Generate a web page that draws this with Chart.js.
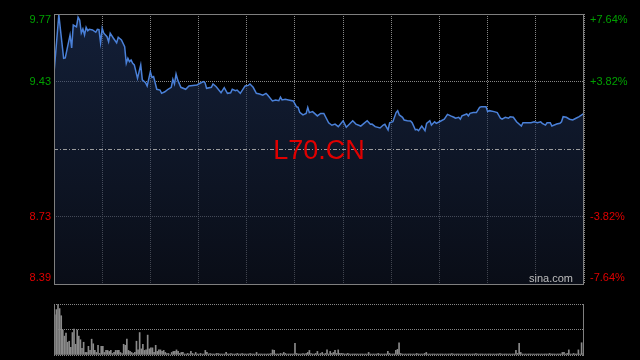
<!DOCTYPE html>
<html>
<head>
<meta charset="utf-8">
<script src="https://cdn.jsdelivr.net/npm/chart.js@4.4.1/dist/chart.umd.min.js"></script>
<style>
    html, body { margin: 0; padding: 0; background: #000; }
    #wrap { position: relative; width: 640px; height: 360px; background: #000; }
    #priceChart { position: absolute; left: 0; top: 0; }
    #volChart { position: absolute; left: 0; top: 296px; }
</style>
</head>
<body>
<div id="wrap">
    <canvas id="priceChart" width="640" height="296"></canvas>
    <canvas id="volChart" width="640" height="64"></canvas>
</div>
<script>
// Intraday data (minute index from the open)
const symbol = 'L70.CN';
const preClose = 9.08;
const pctTicks = [7.64, 3.82, 0, -3.82, -7.64];

const minutes = [
    0, 3, 6, 7, 10, 11, 12, 14, 15, 16,
    17, 18, 19, 20, 21, 22, 24, 26, 27, 28,
    29, 30, 31, 33, 34, 35, 37, 39, 40, 42,
    44, 45, 46, 47, 48, 49, 50, 52, 54, 55,
    57, 58, 60, 61, 62, 64, 66, 67, 69, 71,
    73, 74, 75, 76, 77, 79, 82, 84, 89, 91,
    93, 94, 95, 98, 99, 101, 104, 106, 108, 110,
    111, 113, 114, 116, 119, 121, 122, 124, 126, 128,
    130, 132, 133, 136, 138, 140, 141, 142, 144, 146,
    149, 151, 152, 153, 155, 157, 158, 159, 161, 164,
    166, 168, 171, 173, 175, 177, 180, 182, 184, 186,
    188, 191, 193, 195, 197, 198, 200, 203, 205, 206,
    208, 209, 211, 213, 214, 215, 217, 218, 220, 222,
    223, 225, 226, 227, 229, 230, 231, 232, 234, 235,
    237, 238, 240, 243, 245, 247, 249, 250, 252, 253,
    254, 257, 258, 259, 261, 263, 265, 266, 269, 270,
    271, 274, 276, 278, 279, 281, 283, 284, 286, 288,
    291, 292, 294, 297, 299, 301, 303, 304, 306, 307,
    309, 310, 313, 315, 316, 317, 319, 321, 323, 325,
    327, 330
];

const prices = [
    9.469, 9.770, 9.546, 9.548, 9.666, 9.599, 9.717, 9.708, 9.757, 9.743,
    9.676, 9.697, 9.666, 9.705, 9.688, 9.695, 9.692, 9.680, 9.695, 9.693,
    9.626, 9.700, 9.675, 9.657, 9.631, 9.675, 9.649, 9.626, 9.654, 9.640,
    9.606, 9.520, 9.546, 9.529, 9.537, 9.520, 9.512, 9.443, 9.512, 9.435,
    9.421, 9.404, 9.477, 9.448, 9.452, 9.387, 9.383, 9.366, 9.374, 9.387,
    9.397, 9.438, 9.414, 9.465, 9.435, 9.397, 9.387, 9.404, 9.409, 9.418,
    9.426, 9.421, 9.392, 9.397, 9.414, 9.400, 9.369, 9.395, 9.366, 9.369,
    9.387, 9.380, 9.383, 9.366, 9.404, 9.407, 9.414, 9.397, 9.366, 9.363,
    9.357, 9.366, 9.357, 9.327, 9.332, 9.328, 9.346, 9.332, 9.335, 9.332,
    9.327, 9.297, 9.294, 9.269, 9.255, 9.263, 9.294, 9.267, 9.272, 9.250,
    9.263, 9.263, 9.215, 9.202, 9.208, 9.195, 9.225, 9.192, 9.208, 9.225,
    9.208, 9.198, 9.212, 9.225, 9.207, 9.208, 9.195, 9.188, 9.203, 9.207,
    9.178, 9.215, 9.220, 9.267, 9.277, 9.255, 9.243, 9.229, 9.225, 9.224,
    9.215, 9.178, 9.181, 9.174, 9.198, 9.186, 9.174, 9.212, 9.225, 9.203,
    9.220, 9.212, 9.220, 9.233, 9.258, 9.250, 9.243, 9.238, 9.243, 9.233,
    9.250, 9.260, 9.250, 9.263, 9.267, 9.267, 9.294, 9.297, 9.297, 9.272,
    9.277, 9.272, 9.267, 9.238, 9.233, 9.243, 9.238, 9.246, 9.243, 9.220,
    9.198, 9.215, 9.215, 9.215, 9.220, 9.215, 9.220, 9.212, 9.203, 9.215,
    9.215, 9.198, 9.208, 9.212, 9.220, 9.246, 9.243, 9.233, 9.229, 9.238,
    9.246, 9.263
];

// one bar per minute, 0..330
const volumes = [
    79, 89, 99, 91, 77, 49, 37, 43, 25, 27,
    15, 44, 51, 21, 49, 37, 30, 13, 25, 5,
    5, 17, 9, 31, 22, 9, 5, 19, 3, 17,
    17, 5, 9, 9, 7, 9, 3, 5, 9, 9,
    9, 5, 3, 21, 19, 31, 9, 7, 5, 3,
    5, 27, 10, 44, 12, 21, 9, 10, 39, 12,
    14, 14, 5, 19, 7, 10, 10, 7, 9, 5,
    3, 3, 1, 5, 7, 7, 10, 7, 3, 5,
    5, 2, 2, 3, 2, 7, 3, 2, 5, 2,
    2, 3, 2, 2, 9, 5, 2, 3, 2, 2,
    2, 3, 3, 2, 2, 2, 2, 5, 2, 2,
    3, 2, 2, 2, 3, 2, 2, 3, 2, 2,
    2, 2, 3, 2, 2, 2, 5, 2, 2, 2,
    2, 2, 2, 2, 2, 3, 10, 9, 2, 2,
    2, 3, 2, 5, 3, 2, 2, 2, 2, 2,
    23, 3, 2, 2, 2, 3, 2, 3, 5, 9,
    3, 2, 2, 3, 7, 2, 3, 5, 2, 3,
    10, 2, 7, 3, 5, 9, 3, 10, 3, 3,
    3, 2, 2, 3, 2, 2, 2, 2, 2, 2,
    2, 2, 2, 2, 2, 2, 5, 2, 2, 2,
    2, 2, 3, 2, 2, 2, 2, 2, 7, 3,
    2, 2, 2, 9, 11, 24, 3, 2, 2, 2,
    2, 2, 2, 2, 2, 2, 3, 2, 2, 2,
    2, 3, 5, 2, 2, 2, 2, 2, 2, 2,
    2, 2, 2, 2, 2, 2, 2, 2, 3, 2,
    2, 2, 2, 2, 2, 2, 2, 2, 2, 2,
    2, 2, 2, 3, 2, 2, 2, 2, 2, 2,
    2, 2, 2, 2, 2, 2, 2, 2, 3, 2,
    2, 2, 2, 2, 2, 2, 2, 2, 9, 3,
    23, 5, 2, 2, 2, 2, 2, 2, 2, 2,
    2, 2, 2, 2, 2, 2, 2, 2, 2, 3,
    2, 2, 2, 2, 2, 2, 2, 5, 5, 2,
    3, 10, 2, 2, 3, 2, 2, 10, 2, 24, 3
];

const FONT = '"Liberation Sans", Arial, sans-serif';
const FRAME = '#7f7f7f';
const GRID = 'rgba(150, 150, 150, 0.9)';
const UP = '#00a000';
const DOWN = '#e00000';

const priceTicks = pctTicks.map(p => preClose * (1 + p / 100));

// frame, pre-close line, axis labels, watermark
const priceDecor = {
    id: 'priceDecor',
    afterDraw(chart) {
        const { ctx, chartArea: a, scales } = chart;
        const y = scales.y;
        ctx.save();

        // pre-close dash-dot line
        const py = Math.round(y.getPixelForValue(preClose)) + 0.5;
        ctx.strokeStyle = 'rgba(170, 170, 170, 0.9)';
        ctx.lineWidth = 1;
        ctx.setLineDash([4, 2, 1, 2]);
        ctx.beginPath();
        ctx.moveTo(a.left, py);
        ctx.lineTo(a.right, py);
        ctx.stroke();
        ctx.setLineDash([]);

        // frame
        ctx.strokeStyle = FRAME;
        ctx.strokeRect(a.left + 0.5, a.top + 0.5, a.right - a.left - 1, a.bottom - a.top);

        // labels
        ctx.font = '11px ' + FONT;
        ctx.textBaseline = 'middle';
        pctTicks.forEach((p, i) => {
            if (p === 0) return;
            let ty = y.getPixelForValue(priceTicks[i]);
            ty = Math.min(Math.max(ty, a.top + 6), a.bottom - 6);
            ctx.fillStyle = p > 0 ? UP : DOWN;
            ctx.textAlign = 'right';
            ctx.fillText(priceTicks[i].toFixed(2), a.left - 3, ty);
            ctx.textAlign = 'left';
            ctx.fillText((p > 0 ? '+' : '') + p.toFixed(2) + '%', a.right + 6, ty);
        });

        // watermark
        ctx.fillStyle = '#e00000';
        ctx.font = '27px ' + FONT;
        ctx.textAlign = 'center';
        ctx.fillText(symbol, (a.left + a.right) / 2, (a.top + a.bottom) / 2 + 3);

        ctx.fillStyle = '#bdbdbd';
        ctx.font = '11px ' + FONT;
        ctx.textAlign = 'right';
        ctx.fillText('sina.com', a.right - 11, a.bottom - 5);
        ctx.restore();
    }
};

new Chart(document.getElementById('priceChart'), {
    type: 'line',
    data: {
        datasets: [{
            data: minutes.map((m, i) => ({ x: m, y: prices[i] })),
            borderColor: '#4a80d8',
            borderWidth: 1.5,
            pointRadius: 0,
            tension: 0,
            fill: 'start',
            backgroundColor: (c) => {
                const { ctx, chartArea } = c.chart;
                if (!chartArea) return 'transparent';
                const g = ctx.createLinearGradient(0, chartArea.top, 0, chartArea.bottom);
                g.addColorStop(0, 'rgba(34, 56, 100, 0.55)');
                g.addColorStop(1, 'rgba(16, 22, 38, 0.6)');
                return g;
            }
        }]
    },
    options: {
        responsive: false,
        animation: false,
        layout: { padding: { top: 14, left: 0, right: 56, bottom: 0 } },
        plugins: { legend: { display: false }, tooltip: { enabled: false } },
        scales: {
            x: {
                type: 'linear',
                min: 0,
                max: 330,
                ticks: { display: false, stepSize: 30 },
                grid: { color: GRID, drawTicks: false },
                border: { display: false, dash: [1, 1] },
                afterFit: (s) => { s.height = 12; }
            },
            y: {
                min: priceTicks[priceTicks.length - 1],
                max: priceTicks[0],
                afterBuildTicks: (s) => { s.ticks = priceTicks.map(v => ({ value: v })); },
                ticks: { display: false },
                grid: {
                    drawTicks: false,
                    color: (c) => (c.tick && Math.abs(c.tick.value - preClose) < 1e-6) ? 'transparent' : GRID
                },
                border: { display: false, dash: [1, 1] },
                afterFit: (s) => { s.width = 54; }
            }
        }
    },
    plugins: [priceDecor]
});

// volume panel
const volFrame = {
    id: 'volFrame',
    afterDraw(chart) {
        const { ctx, chartArea: a } = chart;
        ctx.save();
        ctx.strokeStyle = FRAME;
        ctx.lineWidth = 1;
        ctx.beginPath();
        ctx.moveTo(a.left + 0.5, a.top);
        ctx.lineTo(a.left + 0.5, a.bottom + 1);
        ctx.moveTo(a.right - 0.5, a.top);
        ctx.lineTo(a.right - 0.5, a.bottom + 1);
        ctx.stroke();
        ctx.restore();
    }
};

new Chart(document.getElementById('volChart'), {
    type: 'bar',
    data: {
        labels: volumes.map((v, i) => i),
        datasets: [{
            data: volumes,
            backgroundColor: '#8a8a8a',
            barThickness: 1
        }]
    },
    options: {
        responsive: false,
        animation: false,
        layout: { padding: { top: 8, left: 0, right: 56, bottom: 5 } },
        plugins: { legend: { display: false }, tooltip: { enabled: false } },
        scales: {
            x: { display: false },
            y: {
                min: 0,
                max: 100,
                ticks: { display: false, stepSize: 50 },
                grid: { color: GRID, drawTicks: false },
                border: { display: false, dash: [1, 1] },
                afterFit: (s) => { s.width = 54; }
            }
        }
    },
    plugins: [volFrame]
});
</script>
</body>
</html>
